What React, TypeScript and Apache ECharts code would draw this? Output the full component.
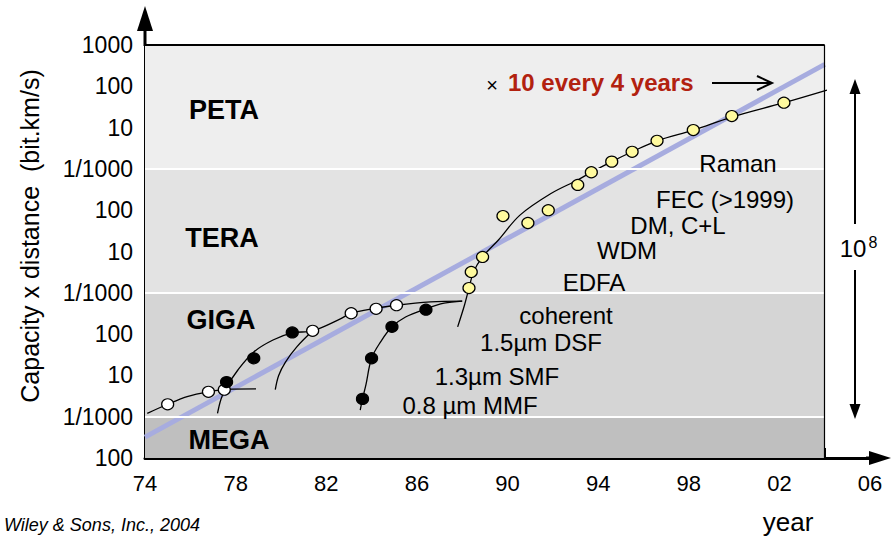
import React, { useEffect, useRef } from "react";
import * as echarts from "echarts";

// ---- axes ----
const tickYears = [1974, 1976, 1978, 1980, 1982, 1984, 1986, 1988, 1990, 1992, 1994, 1996, 1998, 2000, 2002, 2004];
const labelYears = [1974, 1978, 1982, 1986, 1990, 1994, 1998, 2002, 2006];
const decadeTicks = [1e8, 1e9, 1e10, 1e11, 1e12, 1e13, 1e14, 1e15, 1e16, 1e17, 1e18];
const decadeLabels = ["100", "1/1000", "10", "100", "1/1000", "10", "100", "1/1000", "10", "100", "1000"];

// ---- unit bands (bit.km/s) ----
const bandEdges = [1e8, 1e9, 1e12, 1e15, 1e18];
const bandNames = ["MEGA", "GIGA", "TERA", "PETA"];
const bandStartYear = 1974;
const bandEndYear = 2004;

// ---- trend: x10 every 4 years ----
const trendYears = [1974, 2004];
const trendValues = [3.2e8, 3.4e17];

// ---- measured systems ----
const openYears = [1975.0, 1976.8, 1977.5, 1981.4, 1983.1, 1984.2, 1985.1];
const openValues = [2.0e9, 4.0e9, 4.5e9, 1.2e11, 3.2e11, 4.1e11, 5.0e11];

const filledYears = [1977.6, 1978.8, 1980.5, 1983.6, 1984.0, 1984.9, 1986.4];
const filledValues = [6.9e9, 2.6e10, 1.1e11, 2.7e9, 2.6e10, 1.5e11, 3.9e11];

const ampYears = [1988.3, 1988.4, 1988.9, 1989.8, 1990.9, 1991.8, 1993.1, 1993.7, 1994.6, 1995.5, 1996.6, 1998.2, 1999.9, 2002.2];
const ampValues = [1.3e12, 3.2e12, 7.4e12, 7.2e13, 4.9e13, 1.0e14, 4.1e14, 8.3e14, 1.5e15, 2.6e15, 4.8e15, 8.7e15, 1.9e16, 4.0e16];

// ---- generation trend curves [year, bit.km/s] ----
const curveMMF = [[1974.1, 1.2e9], [1975.0, 2.0e9], [1975.9, 3.1e9], [1976.8, 4.0e9], [1977.6, 4.6e9], [1978.9, 4.7e9]];
const curveSMF = [[1977.2, 1.2e9], [1977.35, 2.6e9], [1977.55, 4.7e9], [1978.1, 1.35e10], [1978.8, 3.7e10], [1979.65, 7.2e10], [1980.5, 1.07e11], [1981.4, 1.2e11], [1982.6, 2.3e11], [1983.1, 3.2e11], [1984.2, 4.2e11], [1985.1, 5.0e11], [1986.6, 6.0e11], [1988.0, 6.3e11]];
const curveDSF = [[1979.75, 4.5e9], [1979.9, 1.0e10], [1980.2, 2.1e10], [1980.7, 4.9e10], [1981.4, 1.2e11]];
const curveCoherent = [[1983.5, 1.45e9], [1983.6, 2.7e9], [1983.75, 5.9e9], [1984.0, 2.6e10], [1984.4, 6.5e10], [1984.9, 1.5e11], [1985.5, 2.6e11], [1986.4, 4.1e11], [1987.2, 5.6e11], [1988.0, 6.3e11]];
const curveAmplified = [[1987.8, 1.5e11], [1988.1, 5.0e11], [1988.3, 1.3e12], [1988.5, 3.2e12], [1988.9, 7.4e12], [1989.6, 1.9e13], [1990.55, 7.6e13], [1991.9, 2.5e14], [1993.1, 5.4e14], [1993.7, 8.3e14], [1994.6, 1.5e15], [1995.5, 2.6e15], [1996.6, 4.8e15], [1998.2, 8.7e15], [1999.9, 1.8e16], [2002.2, 4.0e16], [2004.1, 8.1e16]];

// ---- technology milestones ----
const techLabels = ["0.8 µm MMF", "1.3µm SMF", "1.5µm DSF", "coherent", "EDFA", "WDM", "DM, C+L", "FEC (>1999)", "Raman"];
const trendLabel = "10 every 4 years";
const spanLabel = "10";
const spanExponent = "8";

const FONT = '"Liberation Sans", Arial, Helvetica, sans-serif';
const bandColors = ["#bfbfbf", "#d5d5d5", "#e3e3e3", "#eeeeee"];
const bandLabelPos = [[229, 440], [221, 320], [222, 238], [224, 110]];
const techLabelPos = [[470, 405], [497, 376], [541, 342], [566, 315], [594, 282], [627, 250], [678, 225], [725, 199], [738, 163]];

const zip = (xs: number[], ys: number[]) => xs.map((x, i) => [x, ys[i]]);

function txt(text: string, x: number, y: number, font: string, extra: any = {}) {
  return {
    type: "text",
    x,
    y,
    silent: true,
    z: 100,
    style: {
      text,
      font,
      fill: "#000",
      align: "center",
      verticalAlign: "middle",
      textAlign: "center",
      textVerticalAlign: "middle",
      ...extra,
    },
  };
}

function seg(x1: number, y1: number, x2: number, y2: number, w: number) {
  return { type: "line", silent: true, z: 100, shape: { x1, y1, x2, y2 }, style: { stroke: "#000", lineWidth: w } };
}

function tri(points: number[][]) {
  return { type: "polygon", silent: true, z: 100, shape: { points }, style: { fill: "#000" } };
}

export default function App() {
  const ref = useRef<HTMLDivElement>(null);

  useEffect(() => {
    if (!ref.current) return;
    const chart = echarts.init(ref.current, undefined, { renderer: "svg" });

    const curveSeries = [curveMMF, curveSMF, curveDSF, curveCoherent, curveAmplified].map((c) => ({
      type: "line",
      data: c,
      smooth: 0.35,
      showSymbol: false,
      silent: true,
      z: 3,
      lineStyle: { color: "#000", width: 1.3 },
    }));

    const dotStyle = (fill: string) => ({
      type: "scatter",
      symbol: "circle",
      symbolSize: [12, 11],
      silent: true,
      z: 5,
      itemStyle: { color: fill, opacity: 1, borderColor: "#000", borderWidth: 1.2 },
    });

    const option: any = {
      animation: false,
      backgroundColor: "#ffffff",
      textStyle: { fontFamily: FONT },
      grid: { left: 145, top: 45, width: 725, height: 413 },
      xAxis: {
        type: "value",
        min: 1974,
        max: 2006,
        axisLine: { show: true, lineStyle: { color: "#000", width: 3 } },
        axisTick: { show: true, inside: true, length: 10, customValues: tickYears, lineStyle: { color: "#000", width: 3 } },
        axisLabel: {
          customValues: labelYears,
          formatter: (v: number) => String(Math.round(v) % 100).padStart(2, "0"),
          fontSize: 22,
          fontFamily: FONT,
          color: "#000",
          margin: 14,
        },
        splitLine: { show: false },
      },
      yAxis: {
        type: "log",
        logBase: 10,
        min: 1e8,
        // a hair above 1e18 so the top decade tick and label survive rounding
        max: 1.0001e18,
        axisLine: { show: true, lineStyle: { color: "#000", width: 3 } },
        axisTick: { show: true, inside: true, length: 12, customValues: decadeTicks, lineStyle: { color: "#000", width: 3 } },
        axisLabel: {
          customValues: decadeTicks,
          formatter: (v: number) => decadeLabels[Math.round(Math.log10(v)) - 8] ?? "",
          fontSize: 23,
          fontFamily: FONT,
          color: "#000",
          margin: 12,
        },
        splitLine: { show: false },
      },
      series: [
        {
          type: "line",
          data: [],
          silent: true,
          z: 1,
          markArea: {
            silent: true,
            label: { show: false },
            data: bandNames.map((_, i) => [
              { xAxis: bandStartYear, yAxis: bandEdges[i], itemStyle: { color: bandColors[i] } },
              { xAxis: bandEndYear, yAxis: bandEdges[i + 1] },
            ]),
          },
          markLine: {
            silent: true,
            symbol: ["none", "none"],
            label: { show: false },
            data: [
              ...bandEdges.slice(1, -1).map((e) => [
                { coord: [bandStartYear, e], lineStyle: { color: "#ffffff", width: 2, type: "solid" } },
                { coord: [bandEndYear, e] },
              ]),
              [
                { coord: [bandStartYear, bandEdges[bandEdges.length - 1]], lineStyle: { color: "#000", width: 2, type: "solid" } },
                { coord: [bandEndYear, bandEdges[bandEdges.length - 1]] },
              ],
              [
                { coord: [bandEndYear, bandEdges[0]], lineStyle: { color: "#000", width: 1.2, type: "solid" } },
                { coord: [bandEndYear, bandEdges[bandEdges.length - 1]] },
              ],
            ],
          },
        },
        {
          type: "line",
          data: zip(trendYears, trendValues),
          showSymbol: false,
          silent: true,
          z: 2,
          lineStyle: { color: "#a7acdf", width: 5 },
        },
        ...curveSeries,
        { ...dotStyle("#ffffff"), data: zip(openYears, openValues) },
        { ...dotStyle("#000000"), data: zip(filledYears, filledValues) },
        { ...dotStyle("#fffa9e"), data: zip(ampYears, ampValues) },
      ],
      graphic: [
        // axis arrows
        seg(145, 46, 145, 28, 3),
        tri([[145, 6], [137, 31], [153, 31]]),
        seg(866, 458, 874, 458, 3),
        tri([[891, 458], [869, 451], [869, 465]]),
        // axis titles and credit
        {
          ...txt("Capacity x distance  (bit.km/s)", 30, 236, `25px ${FONT}`),
          rotation: Math.PI / 2,
        },
        txt("year", 788, 522, `26px ${FONT}`),
        txt("Wiley & Sons, Inc., 2004", 4, 525, `italic 18px ${FONT}`, { align: "left", textAlign: "left" }),
        // band names
        ...bandNames.map((n, i) => txt(n, bandLabelPos[i][0], bandLabelPos[i][1], `bold 27px ${FONT}`)),
        // technology labels
        ...techLabels.map((t, i) => txt(t, techLabelPos[i][0], techLabelPos[i][1], `24px ${FONT}`)),
        // trend annotation
        txt("×", 492, 85, `20px ${FONT}`),
        txt(trendLabel, 508, 82, `bold 24px ${FONT}`, { align: "left", textAlign: "left", fill: "#b2210f" }),
        seg(712, 83, 770, 83, 2),
        { type: "polyline", silent: true, z: 100, shape: { points: [[757, 76], [772, 83], [757, 90]] }, style: { stroke: "#000", lineWidth: 2, fill: null } },
        // span of the vertical scale
        seg(855, 90, 855, 224, 2),
        seg(855, 270, 855, 408, 2),
        tri([[855, 79], [849.5, 94], [860.5, 94]]),
        tri([[855, 419], [849.5, 404], [860.5, 404]]),
        txt(spanLabel, 853, 248, `24px ${FONT}`),
        txt(spanExponent, 873, 242, `16px ${FONT}`),
      ],
    };

    chart.setOption(option);
    return () => chart.dispose();
  }, []);

  return (
    <div
      ref={ref}
      style={{ position: "absolute", left: 0, top: 0, width: 893, height: 540, background: "#fff" }}
    />
  );
}
